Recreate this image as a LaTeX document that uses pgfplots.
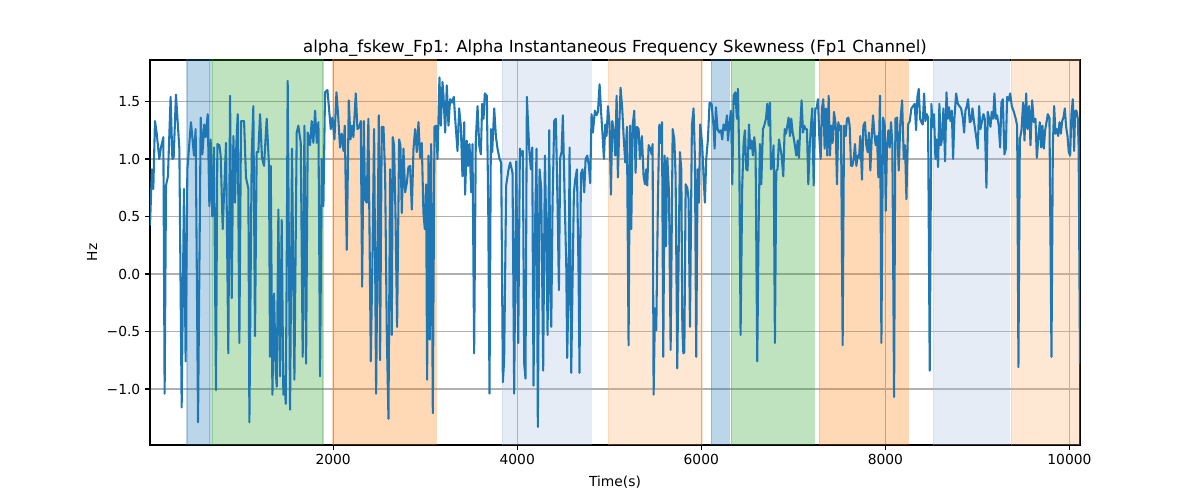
\documentclass[border=0pt]{standalone}
\usepackage{pgfplots}
\pgfplotsset{compat=1.18}
\usepackage{fontspec}
\setmainfont{DejaVu Sans}
\definecolor{tabblue}{HTML}{1F77B4}
\definecolor{tabgreen}{HTML}{2CA02C}
\definecolor{taborange}{HTML}{FF7F0E}
\definecolor{lblue}{RGB}{168,192,225}
\definecolor{lorange}{RGB}{252,178,112}
\definecolor{gridgray}{HTML}{B0B0B0}
\newcommand{\vspanrect}[3]{\addplot[fill=#3, fill opacity=0.3, draw=#3, draw opacity=0.3, line width=1pt, forget plot] coordinates {(#1,-3) (#2,-3) (#2,3) (#1,3)} -- cycle;}
\begin{document}
\begin{tikzpicture}
\path (-1.5in,-0.55in) rectangle (10.5in,4.45in);
\begin{axis}[
  at={(0,0)}, anchor=south west,
  scale only axis, width=9.3in, height=3.85in,
  xmin=10, xmax=10115, ymin=-1.487, ymax=1.861,
  xtick={2000,4000,6000,8000,10000},
  ytick={-1,-0.5,0,0.5,1,1.5},
  yticklabels={−1.0,−0.5,0.0,0.5,1.0,1.5},
  scaled x ticks=false,
  xticklabel style={/pgf/number format/1000 sep=},
  /pgf/number format/assume math mode=true,
  tick label style={font=\fontsize{10}{12}\selectfont},
  label style={font=\fontsize{10}{12}\selectfont},
  tick align=outside, major tick length=3.5pt,
  tick style={black, line width=0.8pt},
  xtick pos=bottom, ytick pos=left,
  grid=major,
  major grid style={gridgray, line width=0.8pt},
  axis line style={black, line width=0.8pt},
  xlabel={Time(s)}, ylabel={Hz},
  xlabel style={yshift=-1pt},
  ylabel style={yshift=0pt},
  title={alpha\_fskew\_Fp1: Alpha Instantaneous Frequency Skewness (Fp1 Channel)},
  title style={font=\fontsize{12}{14}\selectfont, yshift=-6.6pt},
  clip=true,
]
\vspanrect{413}{663}{tabblue}
\vspanrect{685}{1891}{tabgreen}
\vspanrect{2000}{3120}{taborange}
\vspanrect{3837}{4804}{lblue}
\vspanrect{4989}{6011}{lorange}
\vspanrect{6109}{6304}{tabblue}
\vspanrect{6326}{7228}{tabgreen}
\vspanrect{7283}{8250}{taborange}
\vspanrect{8522}{9348}{lblue}
\vspanrect{9370}{10200}{lorange}
\addplot[tabblue, line width=1.5pt, line join=round, mark=none] coordinates {
(10,0.42) (31,0.91) (46,0.74) (64,1.33) (82,1.23) (111,1.00) (129,1.10) (155,1.19) (169,-1.04) (184,0.77) (205,0.85) (234,1.54) (253,1.00) (267,1.01) (292,1.56) (329,1.09) (354,-1.16) (379,0.74) (397,-0.76) (416,0.91) (455,1.32) (488,1.03) (506,1.26) (532,-1.29) (561,1.36) (579,1.04) (600,1.30) (615,1.19) (637,1.39) (655,0.59) (669,1.17) (687,0.50) (705,1.10) (727,-1.01) (742,1.13) (764,1.12) (778,1.03) (800,0.39) (836,1.14) (861,-0.69) (880,1.55) (898,-0.21) (916,1.20) (934,0.62) (948,1.12) (963,1.39) (981,-0.60) (999,1.33) (1032,1.33) (1053,0.84) (1079,0.74) (1090,-1.29) (1115,1.03) (1133,1.46) (1151,-0.54) (1169,1.06) (1187,1.06) (1206,1.39) (1227,1.01) (1249,0.94) (1278,1.35) (1303,0.94) (1314,-0.72) (1322,0.94) (1340,-1.05) (1358,-0.17) (1376,-0.84) (1387,-0.98) (1405,0.56) (1423,-0.89) (1441,0.47) (1459,-1.05) (1470,-0.89) (1485,-1.13) (1495,0.01) (1506,1.68) (1532,-1.18) (1553,1.09) (1579,-0.92) (1604,1.23) (1622,1.29) (1648,1.14) (1669,-0.72) (1688,1.29) (1706,-0.78) (1724,1.23) (1749,1.12) (1767,1.33) (1785,1.14) (1804,1.42) (1822,1.14) (1840,1.32) (1858,-0.89)
(1876,1.00) (1894,0.59) (1912,1.58) (1938,1.60) (1974,1.26) (1992,1.36) (2014,1.17) (2036,1.58) (2054,1.38) (2075,1.10) (2094,1.22) (2112,1.07) (2126,1.29) (2148,0.21) (2170,1.51) (2188,1.17) (2206,1.29) (2220,1.19) (2246,1.57) (2264,1.26) (2286,1.28) (2300,1.33) (2315,-0.11) (2333,1.33) (2347,0.65) (2365,0.62) (2383,1.35) (2409,-0.76) (2427,0.13) (2445,1.26) (2467,-1.04) (2496,1.38) (2510,-0.75) (2528,1.28) (2547,1.28) (2565,0.85) (2583,-0.52) (2601,-1.26) (2619,0.91) (2637,-0.53) (2648,1.19) (2662,1.12) (2677,0.53) (2695,-0.46) (2717,1.17) (2731,1.12) (2746,0.53) (2764,1.09) (2782,0.71) (2800,0.79) (2818,0.93) (2836,0.94) (2855,0.56) (2873,1.09) (2891,1.26) (2909,1.06) (2927,1.32) (2945,1.01) (2963,1.14) (2981,0.53) (2996,0.39) (3010,0.78) (3021,-0.92) (3036,1.03) (3050,-0.57) (3065,1.13) (3083,-1.21) (3101,1.28) (3119,1.29) (3134,1.00) (3155,1.71) (3170,1.29) (3188,1.67) (3199,1.55) (3217,1.23) (3235,1.64) (3253,1.29) (3271,1.52) (3289,1.49) (3311,1.54) (3326,1.35) (3351,1.07) (3369,1.44) (3387,1.29) (3405,0.85) (3424,1.32) (3434,0.69) (3452,1.16) (3467,0.94) (3482,1.13) (3500,0.71) (3514,1.13) (3532,-0.69) (3550,1.17) (3569,1.46) (3587,1.12) (3605,1.04) (3619,1.48) (3634,1.35) (3648,1.57) (3670,1.55) (3685,0.59) (3699,-1.04) (3714,1.26) (3728,1.06) (3750,1.44) (3768,1.20) (3786,1.09) (3808,1.00)
(3826,0.97) (3844,-0.94) (3858,-0.75) (3880,0.77) (3906,0.91) (3924,0.97) (3949,0.88) (3967,-1.04) (3989,0.98) (4011,-0.60) (4029,1.09) (4047,1.03) (4061,1.07) (4076,-0.78) (4090,-0.91) (4105,1.54) (4130,1.09) (4148,0.91) (4163,1.10) (4177,-0.97) (4195,0.47) (4210,1.09) (4224,-1.33) (4243,0.91) (4261,0.74) (4282,-0.84) (4301,1.03) (4315,0.42) (4330,-0.53) (4348,1.25) (4359,-0.17) (4370,-0.46) (4384,0.62) (4402,1.33) (4420,1.35) (4438,0.62) (4453,-0.14) (4467,1.01) (4482,1.06) (4496,1.38) (4514,0.71) (4533,0.07) (4543,-0.73) (4558,-0.11) (4569,1.10) (4587,-0.86) (4602,-0.02) (4616,0.71) (4630,0.82) (4649,0.91) (4667,-0.02) (4677,-0.86) (4692,0.87) (4710,0.91) (4728,0.71) (4743,1.00) (4761,1.03) (4779,0.94) (4793,0.79) (4808,1.39) (4822,1.23) (4844,1.42) (4862,1.38) (4877,1.41) (4895,1.65) (4913,1.39) (4928,1.20) (4942,1.00) (4957,1.30) (4971,1.20) (4986,1.46) (5004,1.29) (5018,0.69) (5033,1.33) (5051,1.23) (5065,1.03) (5080,1.55) (5094,0.84) (5109,1.29) (5123,1.62) (5141,1.44) (5156,1.20) (5174,0.97) (5192,1.28) (5210,-0.62) (5225,1.29) (5239,0.39) (5254,1.29) (5272,1.42) (5286,0.88) (5301,1.28) (5319,1.26) (5333,1.00) (5355,1.20) (5373,0.85) (5388,0.78) (5402,0.91) (5413,0.77) (5428,1.12) (5446,1.09) (5460,1.04) (5471,1.13) (5482,-1.05) (5497,-0.30) (5511,-0.49) (5529,0.65) (5544,1.30) (5558,1.14) (5573,1.32) (5587,-0.72) (5602,1.03) (5616,0.24) (5631,1.01) (5649,0.71) (5667,-0.66) (5689,1.26) (5707,1.17) (5721,0.85) (5739,-0.82) (5754,0.15) (5768,1.06) (5783,0.91) (5794,-0.46) (5805,-0.69) (5816,-0.68) (5830,0.78) (5848,0.75) (5862,0.65) (5877,-0.46)
(5898,1.29) (5916,1.44) (5931,1.00) (5945,-0.72) (5960,0.91) (5974,0.62) (5989,1.30) (6010,1.12) (6025,0.85) (6039,0.62) (6054,1.00) (6072,1.17) (6090,1.49) (6112,1.48) (6134,1.28) (6145,1.09) (6159,1.45) (6177,1.26) (6195,1.23) (6213,1.25) (6228,1.17) (6242,1.30) (6260,1.25) (6279,1.38) (6290,1.16) (6304,1.29) (6322,1.42) (6337,0.78) (6351,1.55) (6369,1.58) (6387,1.35) (6398,1.61) (6413,1.00) (6427,-0.53) (6445,0.77) (6460,1.14) (6474,1.25) (6489,0.91) (6503,0.90) (6518,1.30) (6532,1.09) (6547,1.16) (6561,1.03) (6576,1.19) (6590,1.06) (6608,-0.76) (6623,0.42) (6637,1.13) (6652,0.78) (6670,1.26) (6684,1.29) (6703,1.35) (6717,1.48) (6732,1.29) (6746,1.49) (6757,0.91) (6771,0.97) (6786,1.12) (6800,-0.60) (6815,0.90) (6829,0.91) (6844,1.17) (6858,1.10) (6873,1.03) (6891,0.85) (6906,1.26) (6920,1.22) (6935,1.29) (6949,1.36) (6964,1.20) (6978,1.35) (6993,1.23) (7007,1.17) (7022,1.09) (7032,1.03) (7047,1.16) (7061,1.01) (7076,1.29) (7090,1.51) (7105,1.23) (7119,1.29) (7134,1.26) (7148,1.26) (7163,0.78) (7177,1.09) (7192,1.29) (7206,1.44) (7221,0.77) (7239,1.44) (7253,1.44) (7268,1.52) (7282,1.20) (7297,1.00) (7311,1.44) (7326,1.52) (7340,1.09) (7355,1.44) (7369,1.03) (7384,1.55) (7398,1.03) (7413,1.29) (7427,1.14) (7442,1.41) (7460,1.30) (7474,0.78) (7489,1.32) (7504,1.25) (7518,1.29) (7536,-0.62) (7551,1.29) (7569,1.20) (7583,1.35) (7598,1.36) (7612,1.29) (7627,0.94) (7641,0.94) (7656,1.00) (7670,1.13) (7685,0.94) (7699,1.03) (7714,1.01) (7728,1.20) (7746,0.82) (7761,1.29) (7779,1.32) (7793,1.12) (7808,1.06) (7822,1.23) (7837,0.90) (7851,1.17) (7866,1.38) (7880,1.23) (7895,1.12) (7909,1.20) (7924,0.84) (7942,1.55) (7957,-0.60)
(7975,1.36) (7993,1.29) (8004,0.55) (8018,1.12) (8033,1.25) (8047,1.10) (8062,1.32) (8076,1.12) (8095,-1.07) (8109,1.35) (8127,1.36) (8145,0.90) (8163,1.32) (8182,1.51) (8200,1.00) (8214,1.12) (8229,0.65) (8247,1.30) (8265,1.33) (8283,1.44) (8301,1.46) (8319,1.48) (8334,1.25) (8348,1.54) (8363,1.61) (8377,1.35) (8392,1.32) (8406,1.30) (8421,1.57) (8435,1.33) (8450,1.39) (8464,1.36) (8482,-0.84) (8500,1.48) (8515,1.28) (8529,1.39) (8544,1.00) (8558,1.17) (8573,0.93) (8587,1.48) (8602,1.12) (8616,1.17) (8631,1.44) (8649,0.98) (8664,1.58) (8678,1.35) (8692,1.45) (8707,1.33) (8722,1.42) (8736,1.00) (8750,1.35) (8769,1.57) (8787,1.48) (8805,1.46) (8823,1.44) (8841,1.36) (8856,1.23) (8870,1.42) (8885,1.46) (8899,1.52) (8917,1.32) (8932,1.33) (8946,1.44) (8964,1.32) (8982,1.22) (9004,1.09) (9019,1.46) (9033,1.26) (9048,1.32) (9066,1.39) (9080,1.35) (9098,0.75) (9113,1.41) (9127,1.35) (9142,1.28) (9156,1.41) (9171,1.35) (9185,1.57) (9200,1.35) (9214,1.38) (9232,1.29) (9247,1.10) (9261,1.49) (9276,1.52) (9294,1.04) (9309,1.09) (9323,1.54) (9341,1.51) (9356,1.57) (9374,1.46) (9396,1.41) (9417,1.35) (9432,1.29) (9446,-0.81) (9461,1.17) (9479,1.25) (9497,1.49) (9512,1.16) (9530,1.57) (9544,1.26) (9562,1.46) (9577,1.12) (9595,1.51) (9613,1.32) (9631,1.35) (9646,1.01) (9664,1.20) (9678,1.32) (9693,1.10) (9707,1.29) (9722,1.09) (9736,1.25) (9751,1.32) (9765,1.39) (9783,1.36) (9805,-0.72) (9820,1.12) (9834,1.46) (9849,1.22) (9863,1.26) (9878,1.20) (9892,1.32) (9907,1.22) (9921,1.33) (9935,1.36) (9950,1.44) (9964,1.28) (9979,1.20) (9993,1.06) (10008,1.03) (10022,1.39) (10037,1.52) (10051,1.07) (10062,1.42) (10077,1.42) (10091,1.35) (10100,1.10) (10115,-0.78)
};
\end{axis}
\end{tikzpicture}
\end{document}
